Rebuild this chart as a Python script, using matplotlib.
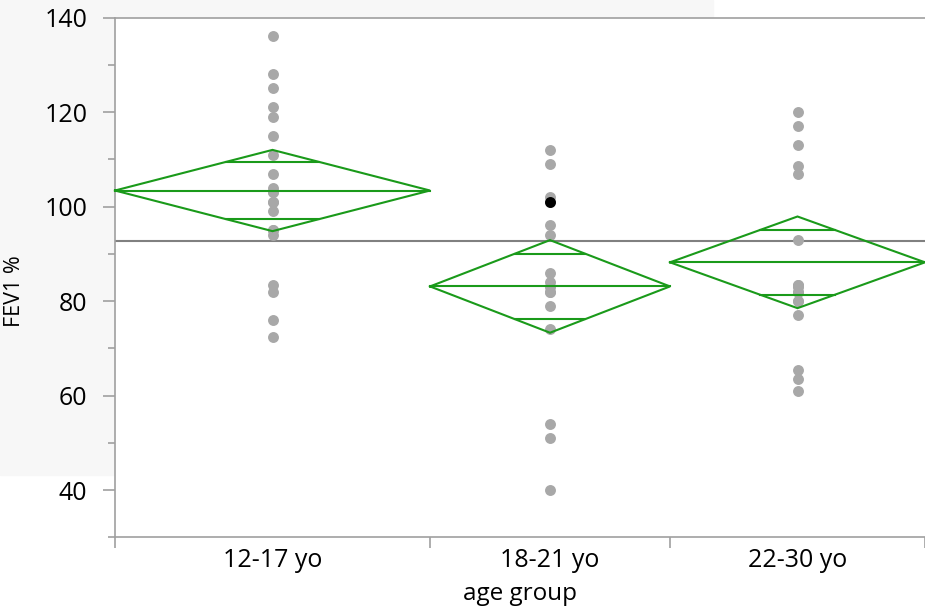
import numpy as np
import matplotlib.pyplot as plt
from matplotlib.patches import Rectangle
from matplotlib.ticker import FixedLocator

plt.rcParams['font.family'] = ['Open Sans', 'DejaVu Sans']

groups = ['12-17 yo', '18-21 yo', '22-30 yo']
fev_12_17 = [136, 128, 125, 121, 119, 115, 111, 107, 104, 103, 103, 101, 101,
             99, 95, 95, 94, 83.5, 82, 76, 72.5]
fev_18_21 = [112, 109, 102, 101, 96, 94, 86, 84, 83, 82, 82, 79, 74, 54, 51, 40]
fev_22_30 = [120, 117, 113, 108.5, 107, 93, 83.5, 83.5, 83, 82, 82, 80, 80, 77,
             65.5, 63.5, 61]
highlight = (1, 101)   # selected row, group index and value

# diamond values
means = [103.4, 83.1, 88.2]
ci_half = [8.6, 9.8, 9.7]
grand_mean = 92.7

data = [fev_12_17, fev_18_21, fev_22_30]
sizes = [len(d) for d in data]
edges = np.concatenate([[0], np.cumsum(sizes)])
centers = (edges[:-1] + edges[1:]) / 2

fig = plt.figure(figsize=(9.25, 6.1), dpi=100)
# light grey panel behind the upper-left part of the report
fig.patches.append(Rectangle((0, 1 - 475 / 610), 713 / 925, 475 / 610,
                             transform=fig.transFigure, color='#f7f7f7', zorder=0))
ax = fig.add_axes([115 / 925, 1 - 537.3 / 610, 810 / 925, 519.7 / 610])
ax.set_zorder(2)
ax.set_facecolor('white')

green = '#1a9a1a'
gray_axis = '#a0a0a0'

ax.axhline(grand_mean, color='#808080', lw=1.5, zorder=2)

for i, vals in enumerate(data):
    c = centers[i]
    l, r = edges[i], edges[i + 1]
    m, h = means[i], ci_half[i]
    ax.plot([l, c, r, c, l], [m, m + h, m, m - h, m], color=green, lw=1.5,
            zorder=4, clip_on=False, solid_joinstyle='miter')
    ax.plot([l, r], [m, m], color=green, lw=1.5, zorder=4, clip_on=False)
    ov = h / np.sqrt(2)
    hw = (r - l) / 2 * (1 - 1 / np.sqrt(2))
    for y in (m + ov, m - ov):
        ax.plot([c - hw, c + hw], [y, y], color=green, lw=1.5, zorder=4)
    ax.scatter([c] * len(vals), vals, s=62, color='#a8a8a8', lw=0, zorder=3)

gi, hv = highlight
ax.scatter([centers[gi]], [hv], s=62, color='black', lw=0, zorder=5)

ax.set_xlim(edges[0], edges[-1])
ax.set_ylim(30, 140)

ax.set_yticks([40, 60, 80, 100, 120, 140])
ax.yaxis.set_minor_locator(FixedLocator([30, 50, 70, 90, 110, 130]))
ax.xaxis.set_major_locator(FixedLocator(edges))
ax.xaxis.set_minor_locator(FixedLocator(centers))
ax.set_xticklabels([''] * len(edges))
ax.set_xticklabels(groups, minor=True)

ax.tick_params(axis='y', which='major', length=9, width=1.2, color=gray_axis,
               pad=11, labelsize=18)
ax.tick_params(axis='y', which='minor', length=5, width=1.2, color=gray_axis)
ax.tick_params(axis='x', which='major', length=8, width=1.2, color=gray_axis)
ax.tick_params(axis='x', which='minor', length=0, pad=8, labelsize=18)

for side in ['left', 'bottom', 'top']:
    ax.spines[side].set_color(gray_axis)
    ax.spines[side].set_linewidth(1.2)
ax.spines['right'].set_visible(False)

ax.set_xlabel('age group', fontsize=17.5, labelpad=6)
ax.set_ylabel('FEV1 %', fontsize=15.5)
ax.yaxis.set_label_coords(-0.111, 0.474)

fig.savefig('out.png', dpi=100)
